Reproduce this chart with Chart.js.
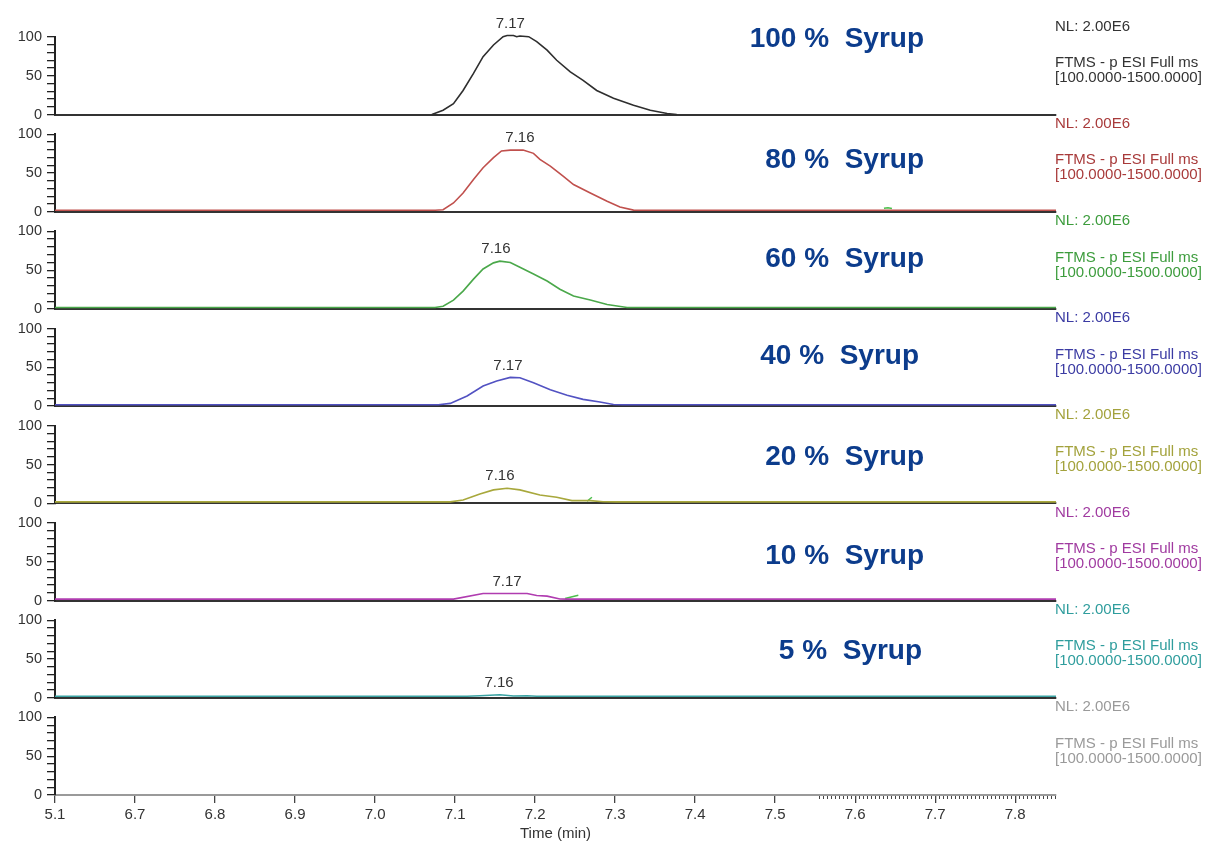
<!DOCTYPE html>
<html><head><meta charset="utf-8">
<script src="https://cdn.jsdelivr.net/npm/chart.js@4.4.1/dist/chart.umd.min.js"></script>
<style>
html,body{margin:0;padding:0;background:#fff;}
#wrap{position:relative;width:1208px;height:843px;overflow:hidden;background:#fff;}
#wrap canvas{position:absolute;left:0;top:0;}
</style></head><body><div id="wrap"></div>
<script>
// ---------- data ----------
const xTickValues = [6.6, 6.7, 6.8, 6.9, 7.0, 7.1, 7.2, 7.3, 7.4, 7.5, 7.6, 7.7, 7.8];
const xTickLabels = ['5.1', '6.7', '6.8', '6.9', '7.0', '7.1', '7.2', '7.3', '7.4', '7.5', '7.6', '7.7', '7.8'];
const yTickValues = [0, 10, 20, 30, 40, 50, 60, 70, 80, 90, 100];
const yTickLabels = ['0', '', '', '', '', '50', '', '', '', '', '100'];
const xTitle = 'Time (min)';

const sampleNames = ['100 %  Syrup', '80 %  Syrup', '60 %  Syrup', '40 %  Syrup', '20 %  Syrup', '10 %  Syrup', '5 %  Syrup', ''];
const nlText = 'NL: 2.00E6';
const scanText1 = 'FTMS - p ESI Full ms';
const scanText2 = '[100.0000-1500.0000]';

const time100 = [7.071, 7.085, 7.098, 7.110, 7.123, 7.135, 7.148, 7.160, 7.165, 7.173, 7.177, 7.181, 7.192, 7.202, 7.215, 7.227, 7.244, 7.260, 7.277, 7.298, 7.323, 7.344, 7.365, 7.377];
const int100  = [0, 5.6, 14, 31, 53, 74.6, 89.7, 100.4, 102, 102, 100.4, 101.3, 100.4, 94, 83, 70, 55, 44, 31, 21, 12, 5.6, 1.3, 0];

const time80 = [6.6, 7.075, 7.085, 7.098, 7.110, 7.123, 7.135, 7.148, 7.158, 7.169, 7.185, 7.198, 7.206, 7.219, 7.235, 7.248, 7.269, 7.290, 7.306, 7.323, 7.335, 7.851];
const int80  = [1.8, 1.8, 2.6, 11.3, 24, 41.6, 56.7, 69.7, 78.4, 79.5, 79.5, 75.3, 67.5, 58.9, 45.9, 35, 24.2, 13.4, 6, 2, 1.8, 1.8];

const time60 = [6.6, 7.075, 7.085, 7.098, 7.110, 7.123, 7.135, 7.148, 7.156, 7.169, 7.181, 7.198, 7.215, 7.231, 7.248, 7.269, 7.290, 7.315, 7.851];
const int60  = [1.8, 1.8, 3.5, 11.4, 23, 38.4, 51.5, 59.4, 61.6, 59.8, 53.7, 45, 36, 25.3, 16.6, 11.4, 5.7, 1.8, 1.8];

const time40 = [6.6, 7.079, 7.094, 7.115, 7.135, 7.152, 7.169, 7.181, 7.198, 7.219, 7.240, 7.260, 7.281, 7.298, 7.310, 7.851];
const int40  = [1.8, 1.8, 3.5, 13, 26, 32.5, 37, 36.5, 30, 21, 14, 8.7, 5.2, 2, 1.8, 1.8];

const time20 = [6.6, 7.094, 7.110, 7.131, 7.148, 7.165, 7.181, 7.206, 7.227, 7.246, 7.269, 7.285, 7.302, 7.851];
const int20  = [1.8, 1.8, 4.3, 12, 17.3, 19.5, 17.3, 10.8, 7.8, 3.5, 3.5, 2, 1.8, 1.8];

const time10 = [6.6, 7.098, 7.135, 7.190, 7.202, 7.215, 7.231, 7.240, 7.851];
const int10  = [1.8, 1.8, 9, 9, 6.5, 5.6, 2, 1.8, 1.8];

const time5 = [6.6, 7.115, 7.131, 7.156, 7.173, 7.190, 7.202, 7.851];
const int5  = [1.8, 1.8, 2.6, 3.9, 2.2, 2.6, 1.8, 1.8];

// small stray green marks
const strayTime80 = [7.636, 7.641, 7.646];
const strayInt80  = [4.5, 5.2, 4.2];
const strayTime20 = [7.265, 7.271];
const strayInt20  = [2.6, 7.8];
const strayTime10 = [7.2375, 7.254];
const strayInt10  = [2.6, 6.9];

// peak annotations
const peakText = ['7.17', '7.16', '7.16', '7.17', '7.16', '7.17', '7.16'];
const peakTime = [7.169, 7.181, 7.151, 7.166, 7.156, 7.165, 7.155];
const peakInt  = [102, 79.5, 61.6, 37, 19.5, 9, 3.9];

// ---------- styling / layout ----------
const W = 1208, H = 843;
const PLOT_LEFT = 55, PLOT_RIGHT = 1056;
const FIRST_BASE = 114.5, PITCH = 97.2, PANEL_H = 77.5;
const X_MIN = 6.6, X_MAX = 7.851;
const FONT = '"Liberation Sans", Arial, Helvetica, sans-serif';
Chart.defaults.font.family = FONT;

const traceColors = ['#2e2e2e', '#c0504d', '#4aa84a', '#5252c2', '#a8a83c', '#b03cb0', '#3aa3a3', '#999999'];
const textColors  = ['#333333', '#a83a3a', '#3c9c3c', '#3b3ba3', '#a3a23c', '#a03aa0', '#2f9d9d', '#9a9a9a'];
const nameColor = '#0c3c8c';
const nameValue = [96.5, 66, 64.6, 63.7, 58.8, 57, 59.7];   // vertical placement (in y units)
const nameRight = [924, 924, 924, 919, 924, 924, 922];
const minorTicks = [];
for (let v = 7.555; v <= 7.85; v += 0.005) minorTicks.push(Math.round(v * 1000) / 1000);

const panels = [
  {t: time100, v: int100, stray: null},
  {t: time80, v: int80, stray: [strayTime80, strayInt80]},
  {t: time60, v: int60, stray: null},
  {t: time40, v: int40, stray: null},
  {t: time20, v: int20, stray: [strayTime20, strayInt20]},
  {t: time10, v: int10, stray: [strayTime10, strayInt10]},
  {t: time5, v: int5, stray: null},
  {t: [], v: [], stray: null}
];

const overlay = {
  id: 'overlay',
  afterDatasetsDraw(chart, args, opts) {
    const i = opts.index;
    const {ctx, chartArea} = chart;
    const x = chart.scales.x, y = chart.scales.y;
    ctx.save();
    if (i < peakText.length) {
      ctx.font = '15px ' + FONT;
      ctx.fillStyle = '#333';
      ctx.textAlign = 'center';
      ctx.textBaseline = 'middle';
      ctx.fillText(peakText[i], x.getPixelForValue(peakTime[i]), y.getPixelForValue(peakInt[i]) - 12);
    }
    if (sampleNames[i]) {
      ctx.font = 'bold 28px ' + FONT;
      ctx.fillStyle = nameColor;
      ctx.textAlign = 'right';
      ctx.textBaseline = 'middle';
      ctx.fillText(sampleNames[i], nameRight[i], y.getPixelForValue(nameValue[i]));
    }
    ctx.font = '15px ' + FONT;
    ctx.fillStyle = textColors[i];
    ctx.textAlign = 'left';
    ctx.textBaseline = 'middle';
    const tx = chartArea.right - 1;
    ctx.fillText(nlText, tx, chartArea.top - 10.5);
    ctx.fillText(scanText1, tx, chartArea.top + 26);
    ctx.fillText(scanText2, tx, chartArea.top + 41);
    ctx.restore();
  }
};

const wrap = document.getElementById('wrap');
panels.forEach((p, i) => {
  const canvas = document.createElement('canvas');
  canvas.width = W; canvas.height = H;
  canvas.style.width = W + 'px'; canvas.style.height = H + 'px';
  wrap.appendChild(canvas);
  const base = FIRST_BASE + PITCH * i;
  const top = base - PANEL_H;
  const last = i === panels.length - 1;
  const xh = last ? H - base : 0;

  const datasets = [];
  if (p.t.length) {
    datasets.push({
      data: p.t.map((t, k) => ({x: t, y: p.v[k]})),
      borderColor: traceColors[i], borderWidth: 1.6, pointRadius: 0, tension: 0, fill: false, clip: false
    });
  }
  if (p.stray) {
    datasets.push({
      data: p.stray[0].map((t, k) => ({x: t, y: p.stray[1][k]})),
      borderColor: '#4cbf4c', borderWidth: 1.5, pointRadius: 0, tension: 0, fill: false, clip: false
    });
  }

  new Chart(canvas, {
    type: 'line',
    data: {datasets},
    options: {
      responsive: false,
      animation: false,
      events: [],
      layout: {padding: {top: top, bottom: H - base - xh, left: 0, right: W - PLOT_RIGHT}},
      plugins: {legend: {display: false}, tooltip: {enabled: false}, overlay: {index: i}},
      scales: {
        x: {
          type: 'linear', min: X_MIN, max: X_MAX, position: 'bottom',
          afterFit: s => { s.height = xh; },
          afterBuildTicks: s => { s.ticks = xTickValues.map(v => ({value: v})); },
          ticks: {display: last, autoSkip: false, maxRotation: 0, padding: 3, color: '#333', font: {size: 15},
                  callback: (v, idx) => xTickLabels[idx]},
          grid: {display: last, drawOnChartArea: false, drawTicks: last, tickLength: 8, color: '#444', lineWidth: 1.3},
          border: {display: true, color: last ? '#9a9a9a' : '#333333', width: 2},
          title: {display: last, text: xTitle, color: '#333', font: {size: 15}, padding: {top: 0, bottom: 0}}
        },
        xm: {
          type: 'linear', min: X_MIN, max: X_MAX, position: {y: 0}, display: last,
          afterBuildTicks: s => { s.ticks = minorTicks.map(v => ({value: v})); },
          ticks: {display: false},
          grid: {drawOnChartArea: false, tickLength: 4, color: '#444', lineWidth: 1},
          border: {display: false}
        },
        y: {
          type: 'linear', min: 0, max: 100, position: 'left',
          afterFit: s => { s.width = PLOT_LEFT; },
          afterBuildTicks: s => { s.ticks = yTickValues.map(v => ({value: v})); },
          ticks: {autoSkip: false, padding: 5, color: '#333', font: {size: 14.5},
                  callback: (v, idx) => yTickLabels[idx]},
          grid: {drawOnChartArea: false, tickLength: 8, color: '#222', lineWidth: 1.3},
          border: {color: '#222', width: 2}
        }
      }
    },
    plugins: [overlay]
  });
});
</script>
</body></html>
